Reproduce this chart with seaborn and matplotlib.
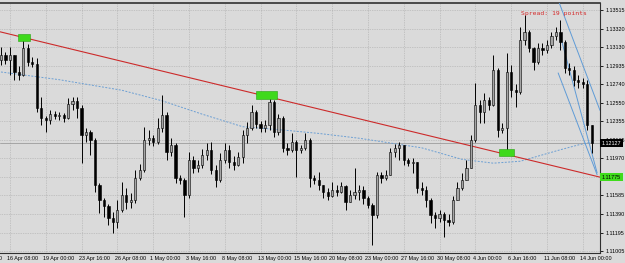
"""
Price chart with trend line, moving average and a falling channel
(8-hour candles, mid April to mid June).
"""

import numpy as np
import pandas as pd
import matplotlib
matplotlib.use("Agg")
import matplotlib.pyplot as plt
import matplotlib.transforms as mtransforms
from matplotlib.patches import Rectangle
import seaborn as sns

# ── Data ───────────────────────────────────────────────────────────────────────
FIRST_OPEN = 1.1300

CLOSE = [
    1.1305, 1.1299, 1.1305, 1.1287, 1.1284, 1.1312, 1.1297, 1.1295, 1.1249, 1.1239,
    1.1237, 1.1243, 1.1241, 1.1242, 1.1239, 1.1254, 1.1257, 1.1249, 1.1221, 1.1224,
    1.1216, 1.1169, 1.1154, 1.1147, 1.1135, 1.1131, 1.1143, 1.1159, 1.1152, 1.1154,
    1.1177, 1.1185, 1.1216, 1.1218, 1.1214, 1.1229, 1.1242, 1.1204, 1.1211, 1.1177,
    1.1174, 1.1159, 1.1195, 1.1187, 1.1190, 1.1200, 1.1206, 1.1185, 1.1174, 1.1195,
    1.1206, 1.1193, 1.1190, 1.1198, 1.1221, 1.1229, 1.1245, 1.1233, 1.1229, 1.1232,
    1.1256, 1.1224, 1.1239, 1.1208, 1.1206, 1.1214, 1.1206, 1.1208, 1.1216, 1.1177,
    1.1174, 1.1169, 1.1162, 1.1158, 1.1164, 1.1162, 1.1168, 1.1152, 1.1159, 1.1162,
    1.1164, 1.1156, 1.1148, 1.1138, 1.1180, 1.1177, 1.1180, 1.1204, 1.1208, 1.1211,
    1.1195, 1.1192, 1.1193, 1.1166, 1.1164, 1.1154, 1.1138, 1.1135, 1.1139, 1.1133,
    1.1131, 1.1154, 1.1166, 1.1174, 1.1187, 1.1216, 1.1253, 1.1245, 1.1258, 1.1253,
    1.1289, 1.1227, 1.1229, 1.1287, 1.1268, 1.1266, 1.1320, 1.1329, 1.1312, 1.1297,
    1.1312, 1.1310, 1.1315, 1.1324, 1.1329, 1.1318, 1.1291, 1.1289, 1.1279, 1.1277,
    1.1274, 1.1232, 1.1213,
]
HIGH = [
    1.1313, 1.1308, 1.1313, 1.1302, 1.1293, 1.1323, 1.1316, 1.1303, 1.1302, 1.1261,
    1.1241, 1.1247, 1.1246, 1.1245, 1.1244, 1.1260, 1.1261, 1.1261, 1.1253, 1.1229,
    1.1227, 1.1218, 1.1171, 1.1156, 1.1149, 1.1141, 1.1154, 1.1172, 1.1166, 1.1161,
    1.1185, 1.1191, 1.1230, 1.1227, 1.1221, 1.1239, 1.1263, 1.1245, 1.1218, 1.1213,
    1.1180, 1.1177, 1.1204, 1.1199, 1.1195, 1.1207, 1.1213, 1.1214, 1.1190, 1.1203,
    1.1213, 1.1211, 1.1199, 1.1204, 1.1227, 1.1235, 1.1253, 1.1247, 1.1236, 1.1237,
    1.1263, 1.1258, 1.1243, 1.1241, 1.1213, 1.1223, 1.1216, 1.1211, 1.1223, 1.1218,
    1.1180, 1.1183, 1.1168, 1.1166, 1.1172, 1.1169, 1.1172, 1.1169, 1.1164, 1.1187,
    1.1169, 1.1168, 1.1158, 1.1150, 1.1183, 1.1183, 1.1185, 1.1208, 1.1212, 1.1214,
    1.1211, 1.1197, 1.1197, 1.1193, 1.1172, 1.1168, 1.1156, 1.1141, 1.1143, 1.1141,
    1.1139, 1.1158, 1.1172, 1.1182, 1.1195, 1.1221, 1.1276, 1.1258, 1.1265, 1.1261,
    1.1305, 1.1291, 1.1234, 1.1307, 1.1294, 1.1274, 1.1334, 1.1346, 1.1331, 1.1313,
    1.1317, 1.1317, 1.1320, 1.1329, 1.1334, 1.1341, 1.1320, 1.1296, 1.1293, 1.1284,
    1.1281, 1.1279, 1.1232,
]
LOW = [
    1.1294, 1.1295, 1.1284, 1.1279, 1.1279, 1.1283, 1.1293, 1.1292, 1.1245, 1.1232,
    1.1224, 1.1233, 1.1238, 1.1237, 1.1235, 1.1238, 1.1247, 1.1239, 1.1192, 1.1214,
    1.1200, 1.1162, 1.1140, 1.1136, 1.1128, 1.1119, 1.1124, 1.1141, 1.1144, 1.1145,
    1.1150, 1.1174, 1.1183, 1.1211, 1.1210, 1.1212, 1.1224, 1.1195, 1.1199, 1.1171,
    1.1170, 1.1136, 1.1156, 1.1182, 1.1183, 1.1187, 1.1195, 1.1181, 1.1167, 1.1172,
    1.1192, 1.1187, 1.1185, 1.1189, 1.1192, 1.1213, 1.1227, 1.1229, 1.1224, 1.1224,
    1.1227, 1.1219, 1.1221, 1.1204, 1.1200, 1.1204, 1.1178, 1.1203, 1.1206, 1.1167,
    1.1170, 1.1164, 1.1156, 1.1154, 1.1157, 1.1158, 1.1161, 1.1143, 1.1154, 1.1155,
    1.1154, 1.1149, 1.1145, 1.1107, 1.1135, 1.1171, 1.1174, 1.1180, 1.1198, 1.1195,
    1.1190, 1.1189, 1.1182, 1.1161, 1.1159, 1.1146, 1.1130, 1.1124, 1.1131, 1.1115,
    1.1127, 1.1129, 1.1154, 1.1164, 1.1177, 1.1187, 1.1214, 1.1234, 1.1234, 1.1247,
    1.1252, 1.1219, 1.1223, 1.1206, 1.1261, 1.1251, 1.1264, 1.1315, 1.1308, 1.1289,
    1.1295, 1.1305, 1.1307, 1.1312, 1.1320, 1.1310, 1.1286, 1.1284, 1.1272, 1.1270,
    1.1270, 1.1227, 1.1203,
]

# slow moving average (bar index, value)
MA_BAR = [0, 13, 27, 36, 45, 54, 62, 71, 80, 94, 103, 110, 116, 125, 129, 132]
MA_VAL = [1.1287, 1.1279, 1.1268, 1.1257, 1.1243, 1.1230, 1.1227, 1.1223,
          1.1218, 1.1208, 1.1196, 1.1192, 1.1194, 1.1206, 1.1211, 1.1214]

# trend line through two touches
TREND_BAR = [5, 113]
TREND_PRICE = [1.1323, 1.1201]
TREND_LABEL = 1.11775

# falling channel / fan lines (start bar, start price, end bar, end price)
CHAN_BAR0 = [124.5, 124.9, 124.5]
CHAN_P0 = [1.1362, 1.1326, 1.1286]
CHAN_BAR1 = [133.85, 133.2, 133.2]
CHAN_P1 = [1.1247, 1.1182, 1.1180]

# highlighted touches
MARK_BAR = [5.1, 59.3, 112.9]
MARK_PRICE = [1.1323, 1.1263, 1.1203]

BID = 1.12127
SPREAD_TEXT = "Spread: 19 points"

YTICKS = [1.13515, 1.13320, 1.13130, 1.12935, 1.12740, 1.12550, 1.12355,
          1.12165, 1.11970, 1.11775, 1.11585, 1.11390, 1.11195, 1.11005]
XLABELS = ["13 Apr 16:00", "16 Apr 08:00", "19 Apr 00:00", "23 Apr 16:00",
           "26 Apr 08:00", "1 May 00:00", "3 May 16:00", "8 May 08:00",
           "13 May 00:00", "15 May 16:00", "20 May 08:00", "23 May 00:00",
           "27 May 16:00", "30 May 08:00", "4 Jun 00:00", "6 Jun 16:00",
           "11 Jun 08:00", "14 Jun 00:00"]

# ── Setup ──────────────────────────────────────────────────────────────────────
BG = "#dadada"
sns.set_theme(style="white")
plt.rcParams["font.family"] = ["Liberation Sans", "DejaVu Sans"]

df = pd.DataFrame({"close": CLOSE, "high": HIGH, "low": LOW})
df["open"] = [FIRST_OPEN] + CLOSE[:-1]
df["high"] = df[["high", "open", "close"]].max(axis=1)
df["low"] = df[["low", "open", "close"]].min(axis=1)
df["bull"] = df["close"] >= df["open"]
bars = np.arange(len(df))

fig = plt.figure(figsize=(6.25, 2.63), dpi=100, facecolor=BG)
ax = fig.add_axes([0, 10 / 263, 600 / 625, 250 / 263], facecolor=BG)
ax.set_xlim(-0.22, 133.85)
ax.set_ylim(1.10984, 1.13589)

# grid + scales
xt = [-6 + 8 * i for i in range(len(XLABELS))]
ax.set_xticks([t for t in xt if t > -0.22])
ax.set_xticklabels([])
ax.yaxis.tick_right()
ax.set_yticks(YTICKS)
# the trend-line price box stands in for its own scale label
ax.set_yticklabels(["" if v == TREND_LABEL else f"{v:.5f}" for v in YTICKS])
ax.grid(True, linestyle=(0, (1, 1.5)), color="#a9a9a9", linewidth=0.5)
ax.tick_params(axis="both", direction="out", length=2.5, width=0.6,
               color="black", labelsize=3.9, pad=1.2, labelcolor="black")

# bid line
ax.axhline(BID, color="#9c9c9c", linewidth=0.6, zorder=1)

# moving average
sns.lineplot(x=MA_BAR, y=MA_VAL, ax=ax, color="#6c9fd3", linewidth=0.7,
             linestyle=(0, (2, 1.5)), zorder=2)

# trend line
ax.axline((TREND_BAR[0], TREND_PRICE[0]), (TREND_BAR[1], TREND_PRICE[1]),
          color="#cc2a2a", linewidth=0.8, zorder=3)

# candles
ax.vlines(bars, df["low"], df["high"], color="black", linewidth=0.7, zorder=4)
ax.bar(bars, (df["close"] - df["open"]).abs(),
       bottom=df[["open", "close"]].min(axis=1), width=0.5,
       color=np.where(df["bull"], "#a5a5a5", "black"),
       edgecolor="black", linewidth=0.4, zorder=5)

# channel lines
for b0, p0, b1, p1 in zip(CHAN_BAR0, CHAN_P0, CHAN_BAR1, CHAN_P1):
    ax.plot([b0, b1], [p0, p1], color="#5f9bd6", linewidth=0.7, zorder=3)

# green touch markers
for b, p, w, h in zip(MARK_BAR, MARK_PRICE, [2.8, 4.6, 3.4], [0.0008, 0.0009, 0.0008]):
    ax.add_patch(Rectangle((b - w / 2, p - h / 2), w, h, facecolor="#3fd91c",
                           edgecolor="#27a012", linewidth=0.4, zorder=6))

# spines
ax.spines["left"].set_visible(False)
for s in ["right", "bottom", "top"]:
    ax.spines[s].set_color("#303030")
    ax.spines[s].set_linewidth(0.8)
ax.spines["top"].set_linewidth(1.2)

# date labels (left edge next to the tick)
tr_x = mtransforms.blended_transform_factory(ax.transData, ax.transAxes)
for t, lab in zip(xt, XLABELS):
    ax.text(t - 0.6, -0.012, lab, transform=tr_x, ha="left", va="top",
            fontsize=3.9, color="black", clip_on=False)

# price boxes on the right scale
tr_y = mtransforms.blended_transform_factory(ax.transAxes, ax.transData)
ax.text(1.003, BID, f"{BID:.5f}", transform=tr_y, ha="left", va="center",
        fontsize=3.9, color="white", clip_on=False, zorder=20,
        bbox=dict(boxstyle="square,pad=0.3", fc="black", ec="none"))
ax.text(1.003, TREND_LABEL, f"{TREND_LABEL:.5f}", transform=tr_y, ha="left",
        va="center", fontsize=3.9, color="black", clip_on=False, zorder=20,
        bbox=dict(boxstyle="square,pad=0.3", fc="#3fdc1c", ec="none"))

# spread text
ax.text(0.868, 0.956, SPREAD_TEXT, transform=ax.transAxes, ha="left", va="center",
        fontsize=4.6, color="#d42a2a", family="DejaVu Sans Mono", zorder=20)

ax.set_xlabel("")
ax.set_ylabel("")

fig.savefig("out.png", dpi=100, facecolor=BG)
